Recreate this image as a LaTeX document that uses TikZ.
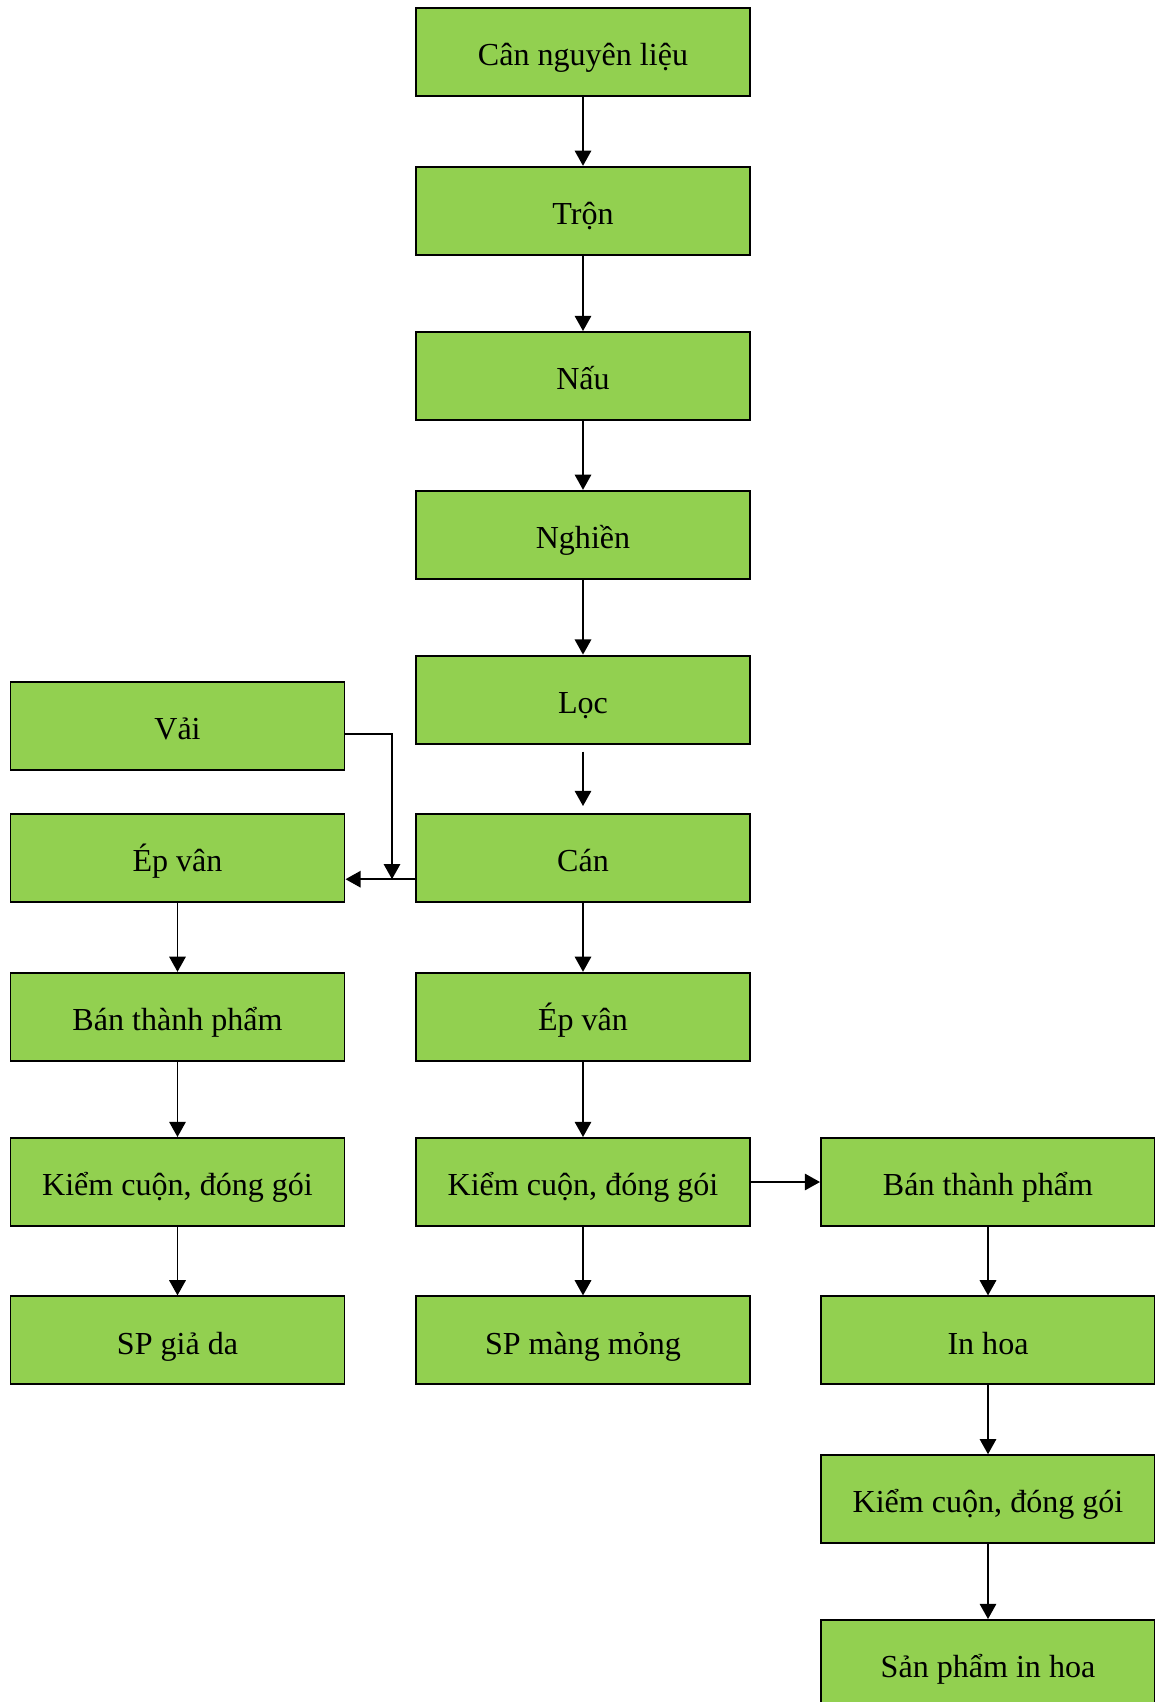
\documentclass[tikz,border=0pt]{standalone}
\usepackage{fontspec}
\setmainfont{Liberation Serif}
\usetikzlibrary{arrows.meta}
\definecolor{stepgreen}{HTML}{92D050}
\begin{document}
\begin{tikzpicture}
[stage/.style={draw=black, fill=stepgreen, line width = 1.4pt, minimum width = 8.35cm, minimum height = 2.2cm, inner sep = 0pt, text height = 0.68cm, text depth = 0cm, font=\fontsize{22.8}{27}\selectfont},
flow/.style={-{Triangle[width=0.41cm,length=0.38cm]}, line width = 1.4pt}]
\useasboundingbox (0,0) rectangle (28.85,-42.55);
\node[stage] (can nl) at (14.575,-1.29) {Cân nguyên liệu};
\node[stage] (tron) at (14.575,-5.27) {Trộn};
\node[stage] (nau) at (14.575,-9.40) {Nấu};
\node[stage] (nghien) at (14.575,-13.37) {Nghiền};
\node[stage] (loc) at (14.575,-17.49) {Lọc};
\node[stage] (can) at (14.575,-21.45) {Cán};
\node[stage] (ep mid) at (14.575,-25.42) {Ép vân};
\node[stage] (kiem mid) at (14.575,-29.55) {Kiểm cuộn, đóng gói};
\node[stage] (sp mang) at (14.575,-33.51) {SP màng mỏng};
\node[stage] (vai) at (4.4375,-18.14) {Vải};
\node[stage] (ep left) at (4.4375,-21.45) {Ép vân};
\node[stage] (btp left) at (4.4375,-25.42) {Bán thành phẩm};
\node[stage] (kiem left) at (4.4375,-29.55) {Kiểm cuộn, đóng gói};
\node[stage] (sp gia da) at (4.4375,-33.51) {SP giả da};
\node[stage] (btp right) at (24.7,-29.55) {Bán thành phẩm};
\node[stage] (in hoa) at (24.7,-33.51) {In hoa};
\node[stage] (kiem right) at (24.7,-37.48) {Kiểm cuộn, đóng gói};
\node[stage] (sp in hoa) at (24.7,-41.6) {Sản phẩm in hoa};
\coordinate (vai bend) at (9.8,-18.35);
\coordinate (vai join) at (9.8,-21.98);
\draw[flow] (can nl) -- (tron);
\draw[flow] (tron) -- (nau);
\draw[flow] (nau) -- (nghien);
\draw[flow] (nghien) -- (loc);
\draw[flow, shorten <= 0.175cm, shorten >= 0.175cm] (loc) -- (can);
\draw[flow] (can) -- (ep mid);
\draw[flow] (ep mid) -- (kiem mid);
\draw[flow] (kiem mid) -- (sp mang);
\draw[flow] (vai.east |- vai bend) -- (vai bend) -- (vai join);
\draw[flow] (can.west |- vai join) -- (ep left.east |- vai join);
\draw[flow] (ep left) -- (btp left);
\draw[flow] (btp left) -- (kiem left);
\draw[flow] (kiem left) -- (sp gia da);
\draw[flow] (kiem mid) -- (btp right);
\draw[flow] (btp right) -- (in hoa);
\draw[flow] (in hoa) -- (kiem right);
\draw[flow] (kiem right) -- (sp in hoa);
\end{tikzpicture}
\end{document}
